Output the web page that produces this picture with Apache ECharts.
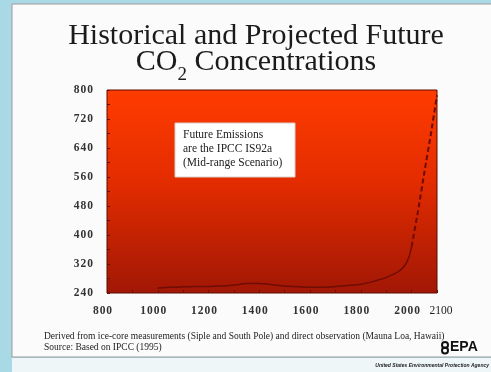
<!DOCTYPE html>
<html>
<head>
<meta charset="utf-8">
<script src="https://cdn.jsdelivr.net/npm/echarts@6/dist/echarts.min.js"></script>
<style>
  html, body { margin: 0; padding: 0; background: #a9d9e5; }
  #chart { width: 491px; height: 372px; }
</style>
</head>
<body>
<div id="chart"></div>
<script>
// Historical record (ice cores + Mauna Loa), ppmv
const histYears = [1000, 1050, 1100, 1150, 1200, 1250, 1300, 1350, 1400, 1450, 1500, 1550, 1600, 1650, 1700, 1750, 1800, 1850, 1900, 1950, 1975, 1990, 2000];
const histValues = [254, 256, 257, 258, 258, 259, 262, 266, 266, 263, 259, 257, 256, 256, 258, 261, 264, 272, 283, 300, 318, 340, 368];

// IS92a mid-range projection, ppmv
const projYears = [2000, 2025, 2050, 2075, 2100];
const projValues = [368, 465, 572, 675, 785];

// Axis labels
const xTickLabels = [800, 1000, 1200, 1400, 1600, 1800, 2000, 2100];
const yTickLabels = [240, 320, 400, 480, 560, 640, 720, 800];

const SERIF = '"Liberation Serif", "DejaVu Serif", serif';
const spaced = v => String(v).split('').join('\u200a');

const chart = echarts.init(document.getElementById('chart'), null, { renderer: 'canvas' });

chart.setOption({
  animation: false,
  backgroundColor: 'transparent',
  grid: {
    left: 107, top: 90, right: 54, bottom: 79,
    show: true,
    borderColor: '#5a0c02',
    borderWidth: 1,
    backgroundColor: new echarts.graphic.LinearGradient(0, 0, 0, 1, [
      { offset: 0, color: '#ff3c00' },
      { offset: 0.45, color: '#e32c00' },
      { offset: 1, color: '#a11705' }
    ])
  },
  xAxis: {
    type: 'value',
    min: 800, max: 2100, interval: 100,
    splitLine: { show: false },
    axisLine: { show: false },
    axisTick: { show: true, inside: true, length: 3, lineStyle: { color: '#6a0e04' } },
    axisLabel: {
      customValues: xTickLabels,
      margin: 12,
      formatter: v => v === 2100 ? '{sup|2100}' : '{n|' + spaced(v) + '}',
      rich: {
        n: { fontFamily: SERIF, fontSize: 11.5, fontWeight: 'bold', color: '#333', padding: [0, 9, 0, 0] },
        sup: { fontFamily: SERIF, fontSize: 11.5, color: '#222', padding: [0, 0, 8, 8] }
      }
    }
  },
  yAxis: {
    type: 'value',
    min: 240, max: 800, interval: 40,
    splitLine: { show: false },
    axisLine: { show: false },
    axisTick: { show: true, inside: true, length: 3, lineStyle: { color: '#6a0e04' } },
    axisLabel: {
      customValues: yTickLabels,
      margin: 14,
      fontFamily: SERIF, fontSize: 11.5, fontWeight: 'bold', color: '#333',
      formatter: v => spaced(v)
    }
  },
  series: [
    {
      name: 'Historical',
      type: 'line',
      smooth: 0.3,
      symbol: 'none',
      data: histYears.map((y, i) => [y, histValues[i]]),
      lineStyle: { color: '#6e0c06', width: 1.5 }
    },
    {
      name: 'Projected',
      type: 'line',
      smooth: 0.2,
      symbol: 'none',
      data: projYears.map((y, i) => [y, projValues[i]]),
      lineStyle: { color: '#6e0c06', width: 2, type: [5, 3] }
    }
  ],
  graphic: [
    // slide panel
    { type: 'rect', z: -10, shape: { x: 12, y: 4, width: 490, height: 353 },
      style: { fill: '#fbfbfb', stroke: '#9a9a9a', lineWidth: 1 } },
    { type: 'rect', z: -10, shape: { x: 12, y: 358, width: 480, height: 14 },
      style: { fill: '#eef6f8' } },
    // two-line heading with subscripted CO2
    { type: 'text', x: 256, y: 21,
      style: { text: 'Historical and Projected Future', align: 'center', verticalAlign: 'top',
        font: '30px ' + SERIF, fill: '#1b1b1b', lineHeight: 30 } },
    { type: 'text', x: 256, y: 47,
      style: { text: '{a|CO}{s|2}{a| Concentrations}', align: 'center', verticalAlign: 'top',
        rich: {
          a: { fontFamily: SERIF, fontSize: 30, fill: '#1b1b1b', lineHeight: 30, verticalAlign: 'bottom' },
          s: { fontFamily: SERIF, fontSize: 19, fill: '#1b1b1b', lineHeight: 19, padding: [0, 0, -8, 0], verticalAlign: 'bottom' }
        } } },
    // scenario note
    { type: 'rect', z: 10, shape: { x: 175, y: 123, width: 120, height: 54 },
      style: { fill: '#ffffff', stroke: '#d9d0c8', lineWidth: 1 } },
    { type: 'text', z: 11, left: 183, top: 128,
      style: { text: 'Future Emissions\nare the IPCC IS92a\n(Mid-range Scenario)',
        font: '11.5px ' + SERIF, fill: '#222', lineHeight: 14 } },
    // sources
    { type: 'text', left: 44, top: 331,
      style: { text: 'Derived from ice-core measurements (Siple and South Pole) and direct observation (Mauna Loa, Hawaii)',
        font: '9.5px ' + SERIF, fill: '#222' } },
    { type: 'text', left: 44, top: 342,
      style: { text: 'Source: Based on IPCC (1995)', font: '9.5px ' + SERIF, fill: '#222' } },
    // agency mark
    { type: 'circle', shape: { cx: 445, cy: 345, r: 3 }, style: { fill: 'none', stroke: '#111', lineWidth: 2 } },
    { type: 'circle', shape: { cx: 445, cy: 350.5, r: 3 }, style: { fill: 'none', stroke: '#111', lineWidth: 2 } },
    { type: 'text', left: 450, top: 340,
      style: { text: 'EPA', font: 'bold 14px "Liberation Sans", Arial, sans-serif', fill: '#111' } },
    { type: 'text', right: 2, top: 363,
      style: { text: 'United States Environmental Protection Agency',
        font: 'italic bold 5px "Liberation Sans", Arial, sans-serif', fill: '#222' } }
  ]
});
</script>
</body>
</html>
